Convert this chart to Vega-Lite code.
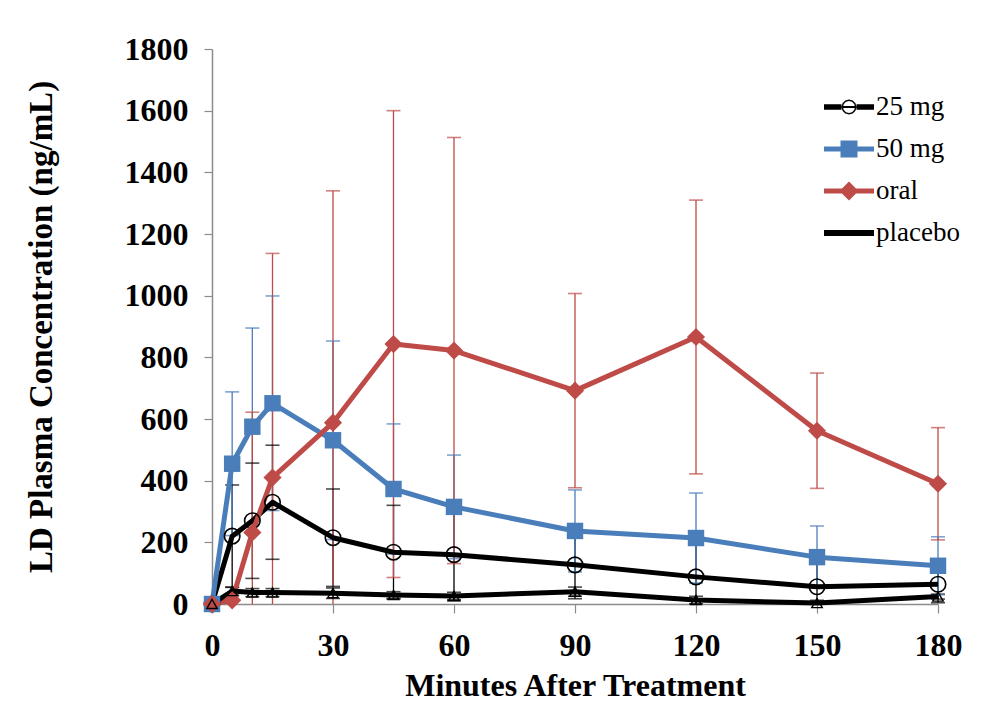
{
  "$schema": "https://vega.github.io/schema/vega-lite/v6.json",
  "width": 726,
  "height": 555,
  "autosize": {"type": "none"},
  "padding": {"left": 212, "top": 49, "right": 62, "bottom": 98},
  "background": "white",
  "config": {"view": {"stroke": null}, "font": "Liberation Serif"},
  "data": {"values": [
    {"g": "25 mg", "t": 0, "v": 0, "lo": 0, "hi": 0},
    {"g": "25 mg", "t": 5, "v": 220, "lo": 54, "hi": 386},
    {"g": "25 mg", "t": 10, "v": 270, "lo": 83, "hi": 457},
    {"g": "25 mg", "t": 15, "v": 330, "lo": 145, "hi": 515},
    {"g": "25 mg", "t": 30, "v": 215, "lo": 57, "hi": 373},
    {"g": "25 mg", "t": 45, "v": 168, "lo": 16, "hi": 320},
    {"g": "25 mg", "t": 60, "v": 160, "lo": 10, "hi": 310},
    {"g": "25 mg", "t": 90, "v": 127, "lo": 17, "hi": 237},
    {"g": "25 mg", "t": 120, "v": 88, "lo": 0, "hi": 208},
    {"g": "25 mg", "t": 150, "v": 56, "lo": 0, "hi": 151},
    {"g": "25 mg", "t": 180, "v": 64, "lo": 4, "hi": 124},
    {"g": "50 mg", "t": 0, "v": 0, "lo": 0, "hi": 0},
    {"g": "50 mg", "t": 5, "v": 455, "lo": 222, "hi": 688},
    {"g": "50 mg", "t": 10, "v": 575, "lo": 255, "hi": 895},
    {"g": "50 mg", "t": 15, "v": 651, "lo": 303, "hi": 999},
    {"g": "50 mg", "t": 30, "v": 531, "lo": 209, "hi": 853},
    {"g": "50 mg", "t": 45, "v": 373, "lo": 162, "hi": 584},
    {"g": "50 mg", "t": 60, "v": 315, "lo": 147, "hi": 483},
    {"g": "50 mg", "t": 90, "v": 237, "lo": 104, "hi": 370},
    {"g": "50 mg", "t": 120, "v": 214, "lo": 68, "hi": 360},
    {"g": "50 mg", "t": 150, "v": 152, "lo": 51, "hi": 253},
    {"g": "50 mg", "t": 180, "v": 124, "lo": 30, "hi": 218},
    {"g": "oral", "t": 0, "v": 0, "lo": 0, "hi": 0},
    {"g": "oral", "t": 5, "v": 12, "lo": 0, "hi": 25},
    {"g": "oral", "t": 10, "v": 232, "lo": 0, "hi": 622},
    {"g": "oral", "t": 15, "v": 410, "lo": 0, "hi": 1137},
    {"g": "oral", "t": 30, "v": 588, "lo": 0, "hi": 1340},
    {"g": "oral", "t": 45, "v": 843, "lo": 86, "hi": 1600},
    {"g": "oral", "t": 60, "v": 822, "lo": 131, "hi": 1513},
    {"g": "oral", "t": 90, "v": 692, "lo": 377, "hi": 1007},
    {"g": "oral", "t": 120, "v": 866, "lo": 422, "hi": 1310},
    {"g": "oral", "t": 150, "v": 562, "lo": 375, "hi": 749},
    {"g": "oral", "t": 180, "v": 390, "lo": 208, "hi": 572},
    {"g": "placebo", "t": 0, "v": 0, "lo": 0, "hi": 0},
    {"g": "placebo", "t": 5, "v": 42, "lo": 29, "hi": 55},
    {"g": "placebo", "t": 10, "v": 37, "lo": 24, "hi": 50},
    {"g": "placebo", "t": 15, "v": 37, "lo": 24, "hi": 50},
    {"g": "placebo", "t": 30, "v": 35, "lo": 18, "hi": 52},
    {"g": "placebo", "t": 45, "v": 29, "lo": 18, "hi": 40},
    {"g": "placebo", "t": 60, "v": 26, "lo": 14, "hi": 38},
    {"g": "placebo", "t": 90, "v": 40, "lo": 25, "hi": 55},
    {"g": "placebo", "t": 120, "v": 13, "lo": 1, "hi": 25},
    {"g": "placebo", "t": 150, "v": 3, "lo": 0, "hi": 12},
    {"g": "placebo", "t": 180, "v": 24, "lo": 16, "hi": 32}
  ]},
  "encoding": {
    "x": {
      "field": "t", "type": "quantitative",
      "scale": {"domain": [0, 180], "nice": false, "zero": false},
      "axis": {
        "values": [0, 30, 60, 90, 120, 150, 180],
        "title": "Minutes After Treatment",
        "grid": false,
        "domainColor": "#8c8c8c", "domainWidth": 1.5,
        "tickColor": "#8c8c8c", "tickSize": 9, "tickWidth": 1.2,
        "labelFont": "Liberation Serif", "labelFontWeight": "bold", "labelFontSize": 32, "labelColor": "black",
        "labelPadding": 17, "labelFlush": false, "labelOverlap": false,
        "titleFont": "Liberation Serif", "titleFontWeight": "bold", "titleFontSize": 32, "titleColor": "black",
        "titlePadding": 9
      }
    },
    "color": {
      "field": "g", "type": "nominal",
      "scale": {"domain": ["25 mg", "50 mg", "oral", "placebo"], "range": ["#000000", "#4a7ebb", "#be4b48", "#000000"]},
      "legend": {
        "title": null,
        "orient": "none",
        "legendX": 622,
        "legendY": 43,
        "symbolSize": 900,
        "labelOffset": 12,
        "rowPadding": 14,
        "labelFont": "Liberation Serif",
        "labelFontSize": 27,
        "labelColor": "black",
        "labelFontWeight": "normal",
        "encoding": {
          "symbols": {
            "shape": {"value": {"expr": "datum.value === '25 mg' ? 'M-1.667,-0.19L-0.5,-0.19L-0.5,0.19L-1.667,0.19Z M0.5,-0.19L1.667,-0.19L1.667,0.19L0.5,0.19Z M0.5,0L0.433,0.25L0.25,0.433L0,0.5L-0.25,0.433L-0.433,0.25L-0.5,0L-0.433,-0.25L-0.25,-0.433L0,-0.5L0.25,-0.433L0.433,-0.25Z M0.4,0L0.346,-0.2L0.2,-0.346L0,-0.4L-0.2,-0.346L-0.346,-0.2L-0.4,0L-0.346,0.2L-0.2,0.346L0,0.4L0.2,0.346L0.346,0.2Z M-0.4,-0.07L0.4,-0.07L0.4,0.07L-0.4,0.07Z' : datum.value === '50 mg' ? 'M-1.667,-0.17L1.667,-0.17L1.667,0.17L-1.667,0.17Z M-0.567,-0.567L0.567,-0.567L0.567,0.567L-0.567,0.567Z' : datum.value === 'oral' ? 'M-1.667,-0.17L1.667,-0.17L1.667,0.17L-1.667,0.17Z M0,-0.633L0.633,0L0,0.633L-0.633,0Z' : 'M-1.667,-0.2L1.667,-0.2L1.667,0.2L-1.667,0.2Z'"}},
            "fill": {"value": {"expr": "datum.value === '50 mg' ? '#4a7ebb' : datum.value === 'oral' ? '#be4b48' : '#000000'"}},
            "stroke": {"value": "transparent"},
            "strokeWidth": {"value": 0},
            "opacity": {"value": 1},
            "fillOpacity": {"value": 1}
          }
        }
      }
    }
  },
  "layer": [
    {
      "transform": [{"filter": "datum.t > 0"}],
      "mark": {"type": "rule", "strokeWidth": 1.3},
      "encoding": {
        "y": {"field": "lo", "type": "quantitative"},
        "y2": {"field": "hi"}
      }
    },
    {
      "transform": [{"filter": "datum.t > 0"}],
      "mark": {"type": "tick", "orient": "horizontal", "size": 14, "thickness": 1.6},
      "encoding": {
        "y": {"field": "hi", "type": "quantitative"}
      }
    },
    {
      "transform": [{"filter": "datum.lo > 0"}],
      "mark": {"type": "tick", "orient": "horizontal", "size": 14, "thickness": 1.6},
      "encoding": {
        "y": {"field": "lo", "type": "quantitative"}
      }
    },
    {
      "mark": {"type": "line", "strokeWidth": 5, "strokeJoin": "round"},
      "encoding": {
        "y": {
          "field": "v", "type": "quantitative",
          "scale": {"domain": [0, 1800], "nice": false},
          "axis": {
            "values": [0, 200, 400, 600, 800, 1000, 1200, 1400, 1600, 1800],
            "format": "d",
            "title": "LD Plasma Concentration (ng/mL)",
            "grid": false,
            "domainColor": "#8c8c8c", "domainWidth": 1.5,
            "tickColor": "#8c8c8c", "tickSize": 8, "tickWidth": 1.2,
            "labelFont": "Liberation Serif", "labelFontWeight": "bold", "labelFontSize": 32, "labelColor": "black",
            "labelPadding": 16, "labelFlush": false, "labelOverlap": false,
            "titleFont": "Liberation Serif", "titleFontWeight": "bold", "titleFontSize": 33, "titleColor": "black",
            "titlePadding": 66
          }
        }
      }
    },
    {
      "transform": [{"filter": "datum.g === '25 mg'"}],
      "mark": {"type": "point", "shape": "circle", "size": 240, "filled": false, "strokeWidth": 1.6, "opacity": 1},
      "encoding": {"y": {"field": "v", "type": "quantitative"}}
    },
    {
      "transform": [{"filter": "datum.g === '50 mg'"}],
      "mark": {"type": "point", "shape": "square", "size": 270, "filled": true, "opacity": 1},
      "encoding": {"y": {"field": "v", "type": "quantitative"}}
    },
    {
      "transform": [{"filter": "datum.g === 'oral'"}],
      "mark": {"type": "point", "shape": "diamond", "size": 330, "filled": true, "opacity": 1},
      "encoding": {"y": {"field": "v", "type": "quantitative"}}
    },
    {
      "transform": [{"filter": "datum.g === 'placebo'"}],
      "mark": {"type": "point", "shape": "triangle-up", "size": 110, "filled": false, "strokeWidth": 1.4, "opacity": 1},
      "encoding": {"y": {"field": "v", "type": "quantitative"}}
    }
  ]
}
